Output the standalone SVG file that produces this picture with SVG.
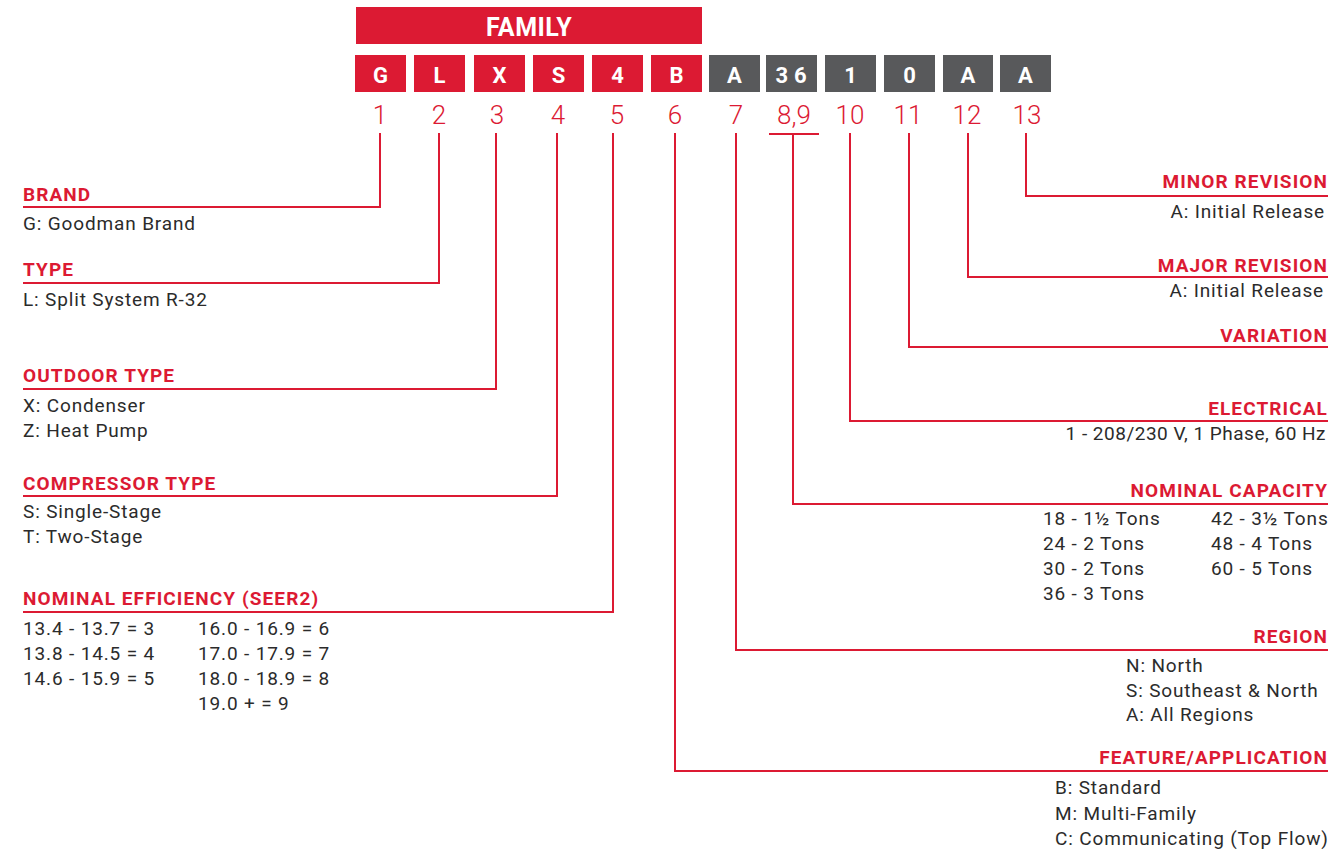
<svg xmlns="http://www.w3.org/2000/svg" width="1333" height="853" viewBox="0 0 1333 853">
<style>
.bg{fill:#ffffff}
.red{fill:#DC1A33}
.gray{fill:#58595B}
.box{font-family:Roboto,"Liberation Sans",sans-serif;font-weight:700;font-size:22px;fill:#ffffff;text-anchor:middle}
.fam{font-family:Roboto,"Liberation Sans",sans-serif;font-weight:700;font-size:25px;fill:#ffffff;text-anchor:middle;letter-spacing:0.5px}
.num{font-family:Roboto,"Liberation Sans",sans-serif;font-weight:300;font-size:26px;fill:#DC1A33;text-anchor:middle}
.hd{font-family:Roboto,"Liberation Sans",sans-serif;font-weight:700;font-size:19px;fill:#DC1A33;letter-spacing:1.1px}
.tx{font-family:Roboto,"Liberation Sans",sans-serif;font-weight:400;font-size:19px;fill:#2b2b2b;letter-spacing:0.85px}
.r{text-anchor:end}
.ln{fill:none;stroke:#DC1A33;stroke-width:2;stroke-linejoin:miter}
</style>
<rect class="bg" x="0" y="0" width="1333" height="853"/>
<g id="family">
<rect class="red" x="356" y="7" width="346" height="37"/>
<text class="fam" x="529" y="36">FAMILY</text>
</g>
<g id="pos1"><rect class="red" x="355" y="55" width="51" height="37"/><text class="box" x="380.5" y="83">G</text><text class="num" x="380" y="124">1</text></g>
<g id="pos2"><rect class="red" x="414" y="55" width="51" height="37"/><text class="box" x="439.5" y="83">L</text><text class="num" x="439" y="124">2</text></g>
<g id="pos3"><rect class="red" x="474" y="55" width="51" height="37"/><text class="box" x="499.5" y="83">X</text><text class="num" x="497" y="124">3</text></g>
<g id="pos4"><rect class="red" x="533" y="55" width="51" height="37"/><text class="box" x="558.5" y="83">S</text><text class="num" x="558" y="124">4</text></g>
<g id="pos5"><rect class="red" x="592" y="55" width="51" height="37"/><text class="box" x="617.5" y="83">4</text><text class="num" x="617" y="124">5</text></g>
<g id="pos6"><rect class="red" x="651" y="55" width="51" height="37"/><text class="box" x="676.5" y="83">B</text><text class="num" x="675" y="124">6</text></g>
<g id="pos7"><rect class="gray" x="709" y="55" width="51" height="37"/><text class="box" x="734.5" y="83">A</text><text class="num" x="736" y="124">7</text></g>
<g id="pos89"><rect class="gray" x="766" y="55" width="51" height="37"/><text class="box" x="794" y="83" style="letter-spacing:6px">36</text><text class="num" x="794" y="124">8,9</text></g>
<g id="pos10"><rect class="gray" x="825" y="55" width="51" height="37"/><text class="box" x="850.5" y="83">1</text><text class="num" x="850" y="124">10</text></g>
<g id="pos11"><rect class="gray" x="884" y="55" width="51" height="37"/><text class="box" x="909.5" y="83">0</text><text class="num" x="908" y="124">11</text></g>
<g id="pos12"><rect class="gray" x="943" y="55" width="50" height="37"/><text class="box" x="968" y="83">A</text><text class="num" x="967" y="124">12</text></g>
<g id="pos13"><rect class="gray" x="1000" y="55" width="51" height="37"/><text class="box" x="1025.5" y="83">A</text><text class="num" x="1027" y="124">13</text></g>

<g id="connectors">
<polyline class="ln" points="380,133 380,207 23,207"/>
<polyline class="ln" points="439,133 439,283 23,283"/>
<polyline class="ln" points="496,133 496,389 23,389"/>
<polyline class="ln" points="557,133 557,496 23,496"/>
<polyline class="ln" points="613,133 613,612 23,612"/>
<polyline class="ln" points="675,133 675,771 1328,771"/>
<polyline class="ln" points="736,133 736,650 1328,650"/>
<line class="ln" x1="769" y1="134" x2="819" y2="134"/>
<polyline class="ln" points="793,134 793,504 1328,504"/>
<polyline class="ln" points="850,133 850,421 1328,421"/>
<polyline class="ln" points="909,133 909,347 1328,347"/>
<polyline class="ln" points="968,133 968,277 1328,277"/>
<polyline class="ln" points="1026,133 1026,196 1328,196"/>
</g>

<g id="brand"><text class="hd" x="23" y="201">BRAND</text><text class="tx" x="23" y="230">G: Goodman Brand</text></g>
<g id="type"><text class="hd" x="23" y="276">TYPE</text><text class="tx" x="23" y="306">L: Split System R-32</text></g>
<g id="outdoor-type"><text class="hd" x="23" y="382">OUTDOOR TYPE</text><text class="tx" x="23" y="412">X: Condenser</text><text class="tx" x="23" y="437">Z: Heat Pump</text></g>
<g id="compressor-type"><text class="hd" x="23" y="490">COMPRESSOR TYPE</text><text class="tx" x="23" y="518">S: Single-Stage</text><text class="tx" x="23" y="543">T: Two-Stage</text></g>
<g id="nominal-efficiency"><text class="hd" x="23" y="605">NOMINAL EFFICIENCY (SEER2)</text>
<text class="tx" x="23" y="635">13.4 - 13.7 = 3</text><text class="tx" x="23" y="660">13.8 - 14.5 = 4</text><text class="tx" x="23" y="685">14.6 - 15.9 = 5</text>
<text class="tx" x="198" y="635">16.0 - 16.9 = 6</text><text class="tx" x="198" y="660">17.0 - 17.9 = 7</text><text class="tx" x="198" y="685">18.0 - 18.9 = 8</text><text class="tx" x="198" y="710">19.0 + = 9</text></g>

<g id="minor-revision"><text class="hd r" x="1328" y="188">MINOR REVISION</text><text class="tx r" x="1325" y="218">A: Initial Release</text></g>
<g id="major-revision"><text class="hd r" x="1328" y="272">MAJOR REVISION</text><text class="tx r" x="1324" y="297">A: Initial Release</text></g>
<g id="variation"><text class="hd r" x="1328" y="342">VARIATION</text></g>
<g id="electrical"><text class="hd r" x="1328" y="415">ELECTRICAL</text><text class="tx r" x="1326" y="440" style="letter-spacing:0.5px">1 - 208/230 V, 1 Phase, 60 Hz</text></g>
<g id="nominal-capacity"><text class="hd r" x="1328" y="497">NOMINAL CAPACITY</text>
<text class="tx" x="1043" y="525">18 - 1½ Tons</text><text class="tx" x="1043" y="550">24 - 2 Tons</text><text class="tx" x="1043" y="575">30 - 2 Tons</text><text class="tx" x="1043" y="600">36 - 3 Tons</text>
<text class="tx" x="1211" y="525">42 - 3½ Tons</text><text class="tx" x="1211" y="550">48 - 4 Tons</text><text class="tx" x="1211" y="575">60 - 5 Tons</text></g>
<g id="region"><text class="hd r" x="1328" y="643">REGION</text>
<text class="tx" x="1126" y="672">N: North</text><text class="tx" x="1126" y="697">S: Southeast &amp; North</text><text class="tx" x="1126" y="721">A: All Regions</text></g>
<g id="feature-application"><text class="hd r" x="1328" y="764">FEATURE/APPLICATION</text>
<text class="tx" x="1055" y="794">B: Standard</text><text class="tx" x="1055" y="820">M: Multi-Family</text><text class="tx" x="1055" y="845">C: Communicating (Top Flow)</text></g>
</svg>
